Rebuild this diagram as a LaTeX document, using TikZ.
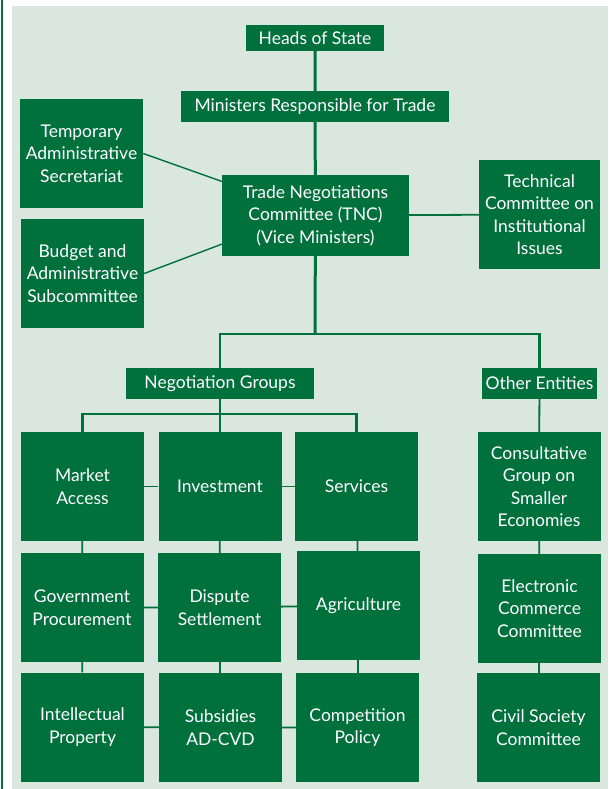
\documentclass[tikz,border=0pt]{standalone}
\usepackage{fontspec}
\setmainfont{Lato}
\usetikzlibrary{backgrounds}
\definecolor{dg}{RGB}{0,112,60}
\definecolor{lg}{RGB}{218,231,223}
\begin{document}
\begin{tikzpicture}[x=1pt,y=1pt,
  box/.style={fill=dg,text=white,inner sep=0pt,align=center,
    font=\fontsize{17.5}{22.5}\selectfont,minimum width=123pt,minimum height=109pt},
  bar/.style={fill=dg,text=white,inner sep=0pt,font=\fontsize{17.5}{22.5}\selectfont},
  trunk/.style={draw=dg,line width=3pt},
  branch/.style={draw=dg,line width=2.2pt},
  conn/.style={draw=dg,line width=1.8pt},
  diag/.style={draw=dg,line width=1.4pt}]
\useasboundingbox (0,0) rectangle (608,-789);
% top levels
\node[bar,minimum width=138pt,minimum height=26pt] (hs) at (315,-38) {Heads of State};
\node[bar,minimum width=268pt,minimum height=31pt] (mrt) at (315,-106.5) {Ministers Responsible for Trade};
\node[box,minimum width=187pt,minimum height=81pt] (tnc) at (315.5,-215.5) {Trade Negotiations\\Committee (TNC)\\(Vice Ministers)};
\node[box] (tas) at (81.5,-153.5) {Temporary\\Administrative\\Secretariat};
\node[box] (bas) at (82.5,-273.5) {Budget and\\Administrative\\Subcommittee};
\node[box,minimum width=121pt] (tci) at (539.5,-214.5) {Technical\\Committee on\\Institutional\\Issues};
\node[bar,minimum width=188pt,minimum height=31pt] (ng) at (220,-383.5) {Negotiation Groups};
\node[bar,minimum width=115pt,minimum height=31pt] (oe) at (539.5,-383.5) {Other Entities};
% row 1
\node[box] (ma) at (82.5,-486.5) {Market\\Access};
\node[box] (inv) at (220,-486.5) {Investment};
\node[box] (srv) at (356.5,-486.5) {Services};
\node[box] (cg) at (539,-486.5) {Consultative\\Group on\\Smaller\\Economies};
% row 2
\node[box] (gp) at (82,-607.5) {Government\\Procurement};
\node[box] (ds) at (219.5,-607.5) {Dispute\\Settlement};
\node[box] (ag) at (358.5,-605.5) {Agriculture};
\node[box] (ec) at (539.5,-608.5) {Electronic\\Commerce\\Committee};
% row 3
\node[box] (ip) at (82.5,-727) {Intellectual\\Property};
\node[box] (sub) at (220.5,-727.5) {Subsidies\\AD-CVD};
\node[box] (cp) at (357.5,-727.5) {Competition\\Policy};
\node[box] (csc) at (538.5,-727.5) {Civil Society\\Committee};
\coordinate (br) at (315,-334);
\coordinate (nb) at (220,-414);
\begin{scope}[on background layer]
  \fill[lg] (12,-6) rectangle (608,-789);
  \draw[dg,line width=1.5pt] (1.8,0) -- (1.8,-789);
  \draw[trunk] (hs) -- (mrt) -- (tnc) -- (br);
  \draw[branch] (ng.north) |- (br) -| (oe.north);
  \draw[branch] (ma.north) |- (nb) -| (srv.north);
  \draw[branch] (ng) -- (ng |- inv.north);
  \draw[diag] (tas.east) -- (tnc.160);
  \draw[diag] (bas.east) -- (tnc.197);
  \draw[conn] (tnc) -- (tci);
  \draw[conn] (ma) -- (inv) -- (srv);
  \draw[conn] (gp) -- (ds) -- (ag);
  \draw[conn] (ip) -- (sub) -- (cp);
  \draw[conn] (ma) -- (gp) -- (ip);
  \draw[conn] (inv) -- (ds) -- (sub);
  \draw[conn] (srv) -- (ag) -- (cp);
  \draw[conn] (oe) -- (cg) -- (ec) -- (csc);
\end{scope}
\end{tikzpicture}
\end{document}
